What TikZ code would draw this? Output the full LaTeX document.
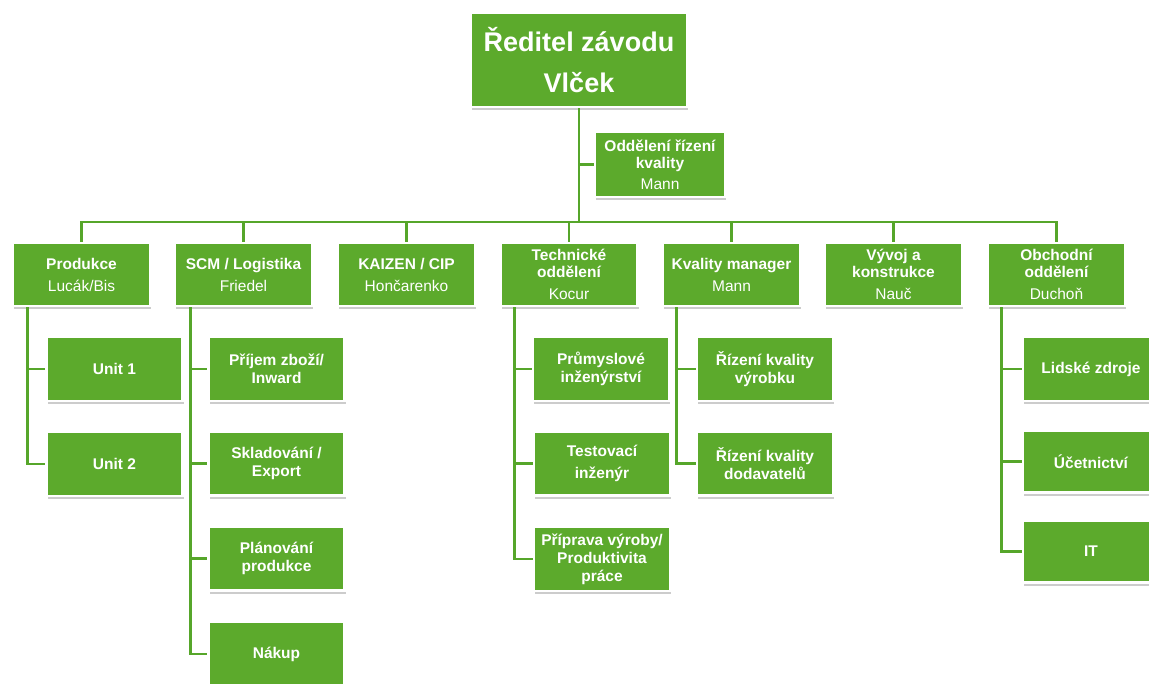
\documentclass[tikz,border=0pt]{standalone}
\usepackage{fontspec}
\setmainfont{Liberation Sans}
\usetikzlibrary{shadows}
\definecolor{boxgreen}{HTML}{5CAA2C}
\definecolor{linegreen}{HTML}{56A62A}
\begin{document}
\begin{tikzpicture}[x=1pt,y=-1pt,
  box/.style={draw=white, line width=2.4pt, fill=boxgreen, text=white, align=center, inner sep=2pt,
    drop shadow={shadow xshift=1.2pt, shadow yshift=-3pt, fill=black, opacity=0.2},
    font=\bfseries\fontsize{15.5}{18}\selectfont},
  lvltwo/.style={box, minimum width=137pt, minimum height=63pt},
  lvlthree/.style={box, minimum width=136pt, minimum height=64pt},
  conn/.style={draw=linegreen, line width=2.8pt}]
\useasboundingbox (0,0) rectangle (1149,684);
\clip (0,0) rectangle (1149,684);

% top
\node[box, minimum width=216pt, minimum height=94pt, font=\bfseries\fontsize{27}{41}\selectfont] (top) at (579,60) {Ředitel závodu\\Vlček};
\node[box, minimum width=130pt, minimum height=65pt, font=\bfseries\fontsize{15.5}{17}\selectfont] (oddel) at (660,164.5) {Oddělení řízení\\kvality\\[4pt]{\mdseries Mann}};

% level 2
\node[lvltwo] (prod) at (81.5,274.5) {Produkce\\[4pt]{\mdseries Lucák/Bis}};
\node[lvltwo] (scm) at (243.5,274.5) {SCM / Logistika\\[4pt]{\mdseries Friedel}};
\node[lvltwo] (kaizen) at (406.5,274.5) {KAIZEN / CIP\\[4pt]{\mdseries Hončarenko}};
\node[lvltwo, font=\bfseries\fontsize{15.5}{16.5}\selectfont] (tech) at (569,274.5) {Technické\\oddělení\\[6pt]{\mdseries Kocur}};
\node[lvltwo] (kval) at (731.5,274.5) {Kvality manager\\[4pt]{\mdseries Mann}};
\node[lvltwo, font=\bfseries\fontsize{15.5}{16.5}\selectfont] (vyvoj) at (893.5,274.5) {Vývoj a\\konstrukce\\[6pt]{\mdseries Nauč}};
\node[lvltwo, font=\bfseries\fontsize{15.5}{16.5}\selectfont] (obch) at (1056.5,274.5) {Obchodní\\oddělení\\[6pt]{\mdseries Duchoň}};

% level 3
\node[lvlthree] (unit1) at (114.5,369) {Unit 1};
\node[lvlthree] (unit2) at (114.5,464) {Unit 2};

\node[lvlthree] (prijem) at (276.5,369) {Příjem zboží/\\Inward};
\node[lvlthree] (sklad) at (276.5,463.5) {Skladování /\\Export};
\node[lvlthree] (plan) at (276.5,558.5) {Plánování\\produkce};
\node[lvlthree] (nakup) at (276.5,654) {Nákup};

\node[lvlthree] (prum) at (601,369) {Průmyslové\\inženýrství};
\node[lvlthree, font=\bfseries\fontsize{15.5}{22}\selectfont] (test) at (602,463.5) {Testovací\\inženýr};
\node[lvlthree] (prip) at (602,559) {Příprava výroby/\\Produktivita\\práce};

\node[lvlthree] (rizv) at (765,369) {Řízení kvality\\výrobku};
\node[lvlthree] (rizd) at (765,463.5) {Řízení kvality\\dodavatelů};

\node[lvlthree] (lidske) at (1091,369) {Lidské zdroje};
\node[lvlthree, minimum height=62pt] (ucet) at (1091,461.5) {Účetnictví};
\node[lvlthree, minimum height=62pt] (it) at (1091,551.5) {IT};

% connectors
\coordinate (bus) at (579,222);
\draw[conn] (top.south) -- (top.south |- bus);
\draw[conn] (oddel.west) -- (oddel.west -| top.south);
\draw[conn] (prod.north) |- (bus) -| (obch.north);
\foreach \n in {scm,kaizen,tech,kval,vyvoj}
  \draw[conn] (\n.north) -- (\n.north |- bus);

\coordinate (prodT) at ([xshift=16pt]prod.south west);
\draw[conn] (prodT) |- (unit2.west);
\draw[conn] (prodT |- unit1.west) -- (unit1.west);

\coordinate (scmT) at ([xshift=17pt]scm.south west);
\draw[conn] (scmT) |- (nakup.west);
\foreach \n in {prijem,sklad,plan}
  \draw[conn] (scmT |- \n.west) -- (\n.west);

\coordinate (techT) at ([xshift=15pt]tech.south west);
\draw[conn] (techT) |- (prip.west);
\foreach \n in {prum,test}
  \draw[conn] (techT |- \n.west) -- (\n.west);

\coordinate (kvalT) at ([xshift=15pt]kval.south west);
\draw[conn] (kvalT) |- (rizd.west);
\draw[conn] (kvalT |- rizv.west) -- (rizv.west);

\coordinate (obchT) at ([xshift=15pt]obch.south west);
\draw[conn] (obchT) |- (it.west);
\foreach \n in {lidske,ucet}
  \draw[conn] (obchT |- \n.west) -- (\n.west);
\end{tikzpicture}
\end{document}
